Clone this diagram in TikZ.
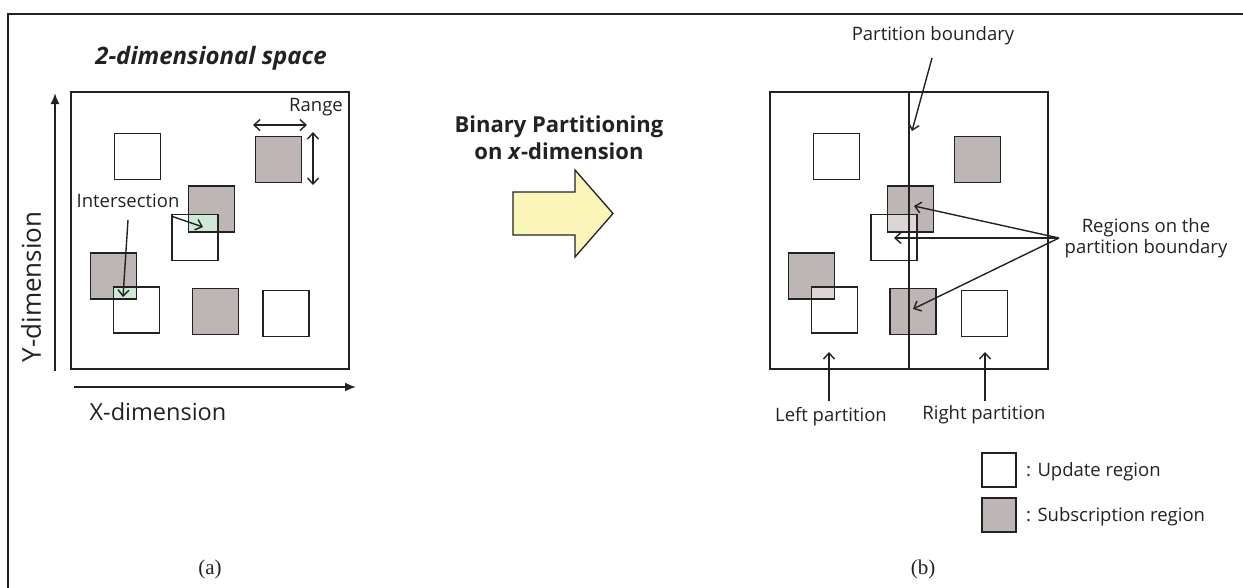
\documentclass[tikz,border=0pt]{standalone}
\usepackage{fontspec}
\setsansfont{Open Sans}
\newfontfamily\capfont{Liberation Serif}
\usetikzlibrary{arrows.meta}
\definecolor{subgray}{HTML}{BEB6B4}
\definecolor{isgreen}{HTML}{CDE8D7}
\definecolor{lightov}{HTML}{DCD7D5}
\definecolor{arrowyel}{HTML}{FCF5B9}
\definecolor{ink}{HTML}{222222}
\tikzset{
  sq/.style={draw=ink, line width=1.6pt, inner sep=0pt, outer sep=0pt, minimum width=46pt, minimum height=46pt},
  upd/.style={sq, fill=white},
  sub/.style={sq, fill=subgray},
  sqline/.style={draw=ink, line width=1.6pt},
  lbl/.style={font=\sffamily\fontsize{18.5}{21}\selectfont, text=ink, inner sep=1pt},
  axlbl/.style={font=\sffamily\fontsize{23.5}{27}\selectfont, text=ink, inner sep=0pt},
  barb/.style={draw=ink, line width=1.4pt, -{Straight Barb[length=6pt,width=11pt]}},
  dbarb/.style={draw=ink, line width=1.4pt, {Straight Barb[length=6pt,width=11pt]}-{Straight Barb[length=6pt,width=11pt]}},
  axisarrow/.style={draw=ink, line width=1.8pt, -{Latex[length=11pt,width=9pt]}},
  captext/.style={font=\capfont\fontsize{21}{24}\selectfont, text=ink}
}
\begin{document}
\begin{tikzpicture}[x=1pt,y=-1pt]
\useasboundingbox (0,0) rectangle (1243,587);
% outer frame
\draw[ink, line width=2.5pt] (8,600) -- (8,14) -- (1260,14);

% ================= (a) =================
\node[font=\sffamily\bfseries\itshape\fontsize{24}{28}\selectfont, text=ink] (title) at (211,58) {2-dimensional space};
\node[draw=ink, line width=1.6pt, inner sep=0pt, outer sep=0pt, minimum width=278pt, minimum height=277pt] (boxa) at (210,230.5) {};
\coordinate (yb) at (55,371);
\coordinate (yt) at (55,93);
\draw[axisarrow] (yb) -- (yt);
\coordinate (xl) at (74,387);
\coordinate (xr) at (356,387);
\draw[axisarrow] (xl) -- (xr);
\node[axlbl] (xlab) at (158,412) {X-dimension};
\node[axlbl, rotate=90, font=\sffamily\fontsize{26}{29}\selectfont] (ylab) at (31,287) {Y-dimension};

\node[upd] (au1) at (137.5,156.5) {};
\node[sub] (as1) at (278.5,159.5) {};
\node[upd] (au2) at (195,237.5) {};
\node[sub] (as2) at (211.5,209) {};
\fill[isgreen] (as2.west |- au2.north) rectangle (au2.east |- as2.south);
\draw[sqline] (au2.north west) rectangle (au2.south east);
\draw[sqline] (as2.north west) rectangle (as2.south east);
\node[upd] (au3) at (136.5,310) {};
\node[sub] (as3) at (113.5,276) {};
\fill[isgreen] (au3.west |- au3.north) rectangle (as3.east |- as3.south);
\draw[sqline] (au3.north west) rectangle (au3.south east);
\draw[sqline] (as3.north west) rectangle (as3.south east);
\node[sub] (as4) at (215.5,311.5) {};
\node[upd] (au4) at (286,313.5) {};

% range
\coordinate (rh1) at (253,125);
\coordinate (rh2) at (307,125);
\draw[dbarb] (rh1) -- (rh2);
\coordinate (rv1) at (313,132);
\coordinate (rv2) at (313,185);
\draw[dbarb] (rv1) -- (rv2);
\node[lbl] (range) at (316,107) {Range};

% intersection
\node[lbl] (inter) at (128,201) {Intersection};
\coordinate (i1s) at (171,216);
\coordinate (i1e) at (203,227);
\draw[barb] (i1s) -- (i1e);
\coordinate (i2s) at (128,220);
\coordinate (i2e) at (123,297);
\draw[barb] (i2s) -- (i2e);

\node[captext] (capa) at (210,569) {(a)};

% ================= arrow =================
\node[font=\sffamily\bfseries\fontsize{22}{27}\selectfont, text=ink, align=center] (bp) at (559,138) {Binary Partitioning\\on \textit{x}-dimension};
\draw[ink, line width=1.3pt, fill=arrowyel, line join=miter]
  (513,192) -- (575,192) -- (575,170) -- (613,213.5) -- (575,257) -- (575,235) -- (513,235) -- cycle;

% ================= (b) =================
\node[draw=ink, line width=1.6pt, inner sep=0pt, outer sep=0pt, minimum width=278pt, minimum height=277pt] (boxb) at (909,230.5) {};

\node[upd] (bu1) at (836.5,156.5) {};
\node[sub] (bs1) at (977.5,159.5) {};
\node[upd] (bu2) at (894,237.5) {};
\node[sub] (bs2) at (910.5,209) {};
\fill[lightov] (bs2.west |- bu2.north) rectangle (bu2.east |- bs2.south);
\draw[sqline] (bu2.north west) rectangle (bu2.south east);
\draw[sqline] (bs2.north west) rectangle (bs2.south east);
\node[upd] (bu3) at (834.5,310) {};
\node[sub] (bs3) at (811.5,276) {};
\fill[lightov] (bu3.west |- bu3.north) rectangle (bs3.east |- bs3.south);
\draw[sqline] (bu3.north west) rectangle (bu3.south east);
\draw[sqline] (bs3.north west) rectangle (bs3.south east);
\node[sub] (bs4) at (913,311.5) {};
\node[upd] (bu4) at (984.5,313.5) {};

% divider
\draw[sqline] (boxb.north) -- (boxb.south);

% partition boundary
\node[lbl] (pbl) at (933,36) {Partition boundary};
\coordinate (pbs) at (932,58);
\coordinate (pbe) at (912,131);
\draw[barb] (pbs) -- (pbe);

% regions on the boundary
\node[lbl, align=center] (rob) at (1146,238.5) {Regions on the\\partition boundary};
\coordinate (ro) at (1059,238);
\coordinate (rt1) at (914,206);
\coordinate (rt2) at (894,238);
\coordinate (rt3) at (913,309);
\draw[barb] (ro) -- (rt1);
\draw[barb] (ro) -- (rt2);
\draw[barb] (ro) -- (rt3);

% left / right partition
\node[lbl] (lp) at (831,417) {Left partition};
\coordinate (lps) at (829,401);
\coordinate (lpe) at (829,352);
\draw[barb] (lps) -- (lpe);
\node[lbl] (rp) at (984,415) {Right partition};
\coordinate (rps) at (985,401);
\coordinate (rpe) at (985,352);
\draw[barb] (rps) -- (rpe);

% legend
\node[upd, minimum width=34pt, minimum height=34pt] (lgu) at (999,470) {};
\node[sub, minimum width=34pt, minimum height=34pt] (lgs) at (999,515) {};
\node[lbl, anchor=west] (lgut) at (1025,472) {: Update region};
\node[lbl, anchor=west] (lgst) at (1025,517) {: Subscription region};

\node[captext] (capb) at (923,569) {(b)};
\end{tikzpicture}
\end{document}
